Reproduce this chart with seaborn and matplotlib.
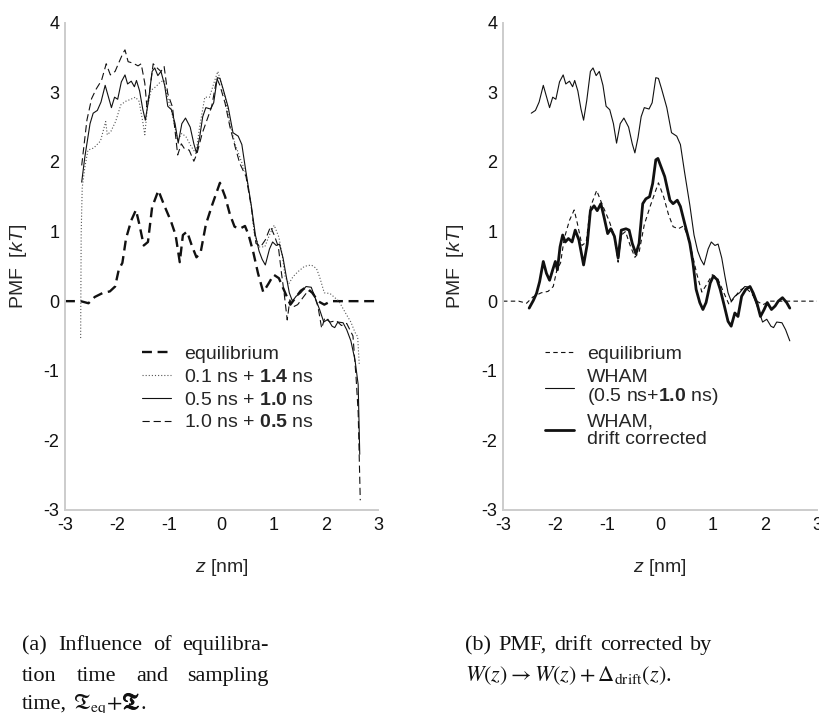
import numpy as np
import pandas as pd
import matplotlib
matplotlib.use("Agg")
import matplotlib.pyplot as plt
import matplotlib.patheffects as pe
import seaborn as sns
from matplotlib.ticker import MultipleLocator

# ---------------- data ----------------
z_eq = [-3.0, -2.7, -2.55, -2.43, -2.27, -2.14, -2.04, -1.97, -1.90, -1.83, -1.73, -1.64,
        -1.58, -1.49, -1.41, -1.33, -1.21, -1.10, -0.97, -0.88, -0.80, -0.74, -0.66, -0.57,
        -0.48, -0.40, -0.30, -0.18, -0.03, 0.07, 0.16, 0.25, 0.35, 0.45, 0.52, 0.61, 0.70,
        0.80, 0.90, 1.00, 1.10, 1.22, 1.32, 1.42, 1.52, 1.62, 1.74, 1.85, 1.97, 2.10, 2.40, 3.0]
pmf_eq = [0.0, 0.0, -0.03, 0.06, 0.12, 0.14, 0.21, 0.45, 0.55, 0.90, 1.16, 1.31,
          1.12, 0.80, 0.85, 1.35, 1.59, 1.38, 1.15, 0.95, 0.56, 0.95, 1.00, 0.80,
          0.63, 0.70, 1.10, 1.38, 1.70, 1.50, 1.25, 1.07, 1.04, 1.08, 0.95, 0.70, 0.40,
          0.13, 0.25, 0.38, 0.33, 0.12, -0.05, 0.05, 0.15, 0.20, 0.12, 0.0, -0.05, 0.0, 0.0, 0.0]

z_01 = [-2.70, -2.69, -2.67, -2.62, -2.56, -2.45, -2.32, -2.22, -2.19, -2.12, -2.03, -1.93,
        -1.84, -1.74, -1.65, -1.58, -1.51, -1.47, -1.42, -1.35, -1.26, -1.17, -1.10, -1.04,
        -0.96, -0.84, -0.76, -0.68, -0.58, -0.49, -0.42, -0.32, -0.23, -0.13, -0.07, -0.02,
        0.07, 0.16, 0.26, 0.35, 0.47, 0.57, 0.63, 0.72, 0.83, 0.93, 1.01, 1.10, 1.16, 1.22,
        1.29, 1.37, 1.46, 1.59, 1.72, 1.82, 1.88, 1.97, 2.08, 2.25, 2.40, 2.48, 2.56, 2.61, 2.64]
pmf_01 = [-0.53, 0.97, 1.63, 1.92, 2.17, 2.20, 2.30, 2.58, 2.39, 2.44, 2.58, 2.82,
          2.87, 2.90, 2.93, 2.87, 2.58, 2.39, 2.79, 3.03, 3.08, 3.15, 3.17, 2.94,
          2.74, 2.31, 2.41, 2.36, 2.22, 2.12, 2.50, 2.93, 2.93, 3.17, 3.30, 3.17,
          2.93, 2.55, 2.26, 2.07, 1.83, 1.36, 0.97, 0.78, 0.78, 0.97, 1.09, 0.92, 0.68, 0.35,
          0.25, 0.35, 0.42, 0.50, 0.52, 0.47, 0.35, 0.12, 0.11, 0.00, -0.20, -0.30, -0.45, -0.51, -0.90]

z_05 = [-2.68, -2.62, -2.52, -2.46, -2.38, -2.31, -2.23, -2.17, -2.11, -2.05, -1.99, -1.92,
        -1.85, -1.80, -1.73, -1.67, -1.63, -1.57, -1.51, -1.46, -1.40, -1.33, -1.28, -1.22,
        -1.16, -1.09, -1.03, -0.96, -0.89, -0.83, -0.76, -0.69, -0.60, -0.53, -0.48, -0.42,
        -0.36, -0.30, -0.21, -0.15, -0.08, -0.03, 0.03, 0.13, 0.22, 0.32, 0.39, 0.47, 0.57,
        0.65, 0.72, 0.78, 0.84, 0.92, 0.98, 1.05, 1.11, 1.18, 1.24, 1.30, 1.36, 1.43, 1.52,
        1.62, 1.72, 1.81, 1.88, 1.96, 2.04, 2.12, 2.17, 2.23, 2.33, 2.40, 2.48, 2.56, 2.62, 2.65]
pmf_05 = [1.71, 2.07, 2.55, 2.70, 2.74, 2.86, 3.10, 2.94, 2.78, 2.93, 2.90, 3.15,
          3.25, 3.12, 3.16, 3.08, 3.17, 3.02, 2.76, 2.60, 2.88, 3.30, 3.35, 3.24,
          3.30, 3.10, 2.80, 2.75, 2.55, 2.27, 2.55, 2.63, 2.50, 2.26, 2.13, 2.35,
          2.65, 2.78, 2.76, 2.85, 3.21, 3.20, 3.05, 2.78, 2.42, 2.37, 2.25, 1.85, 1.38,
          0.95, 0.72, 0.60, 0.52, 0.75, 0.85, 0.80, 0.82, 0.62, 0.36, 0.12, 0.00, 0.07, 0.12,
          0.21, 0.20, 0.02, -0.12, -0.30, -0.26, -0.36, -0.38, -0.30, -0.31, -0.41, -0.57, -0.85, -1.20, -2.20]

z_10 = [-2.68, -2.58, -2.49, -2.40, -2.30, -2.21, -2.13, -2.04, -1.96, -1.89, -1.85, -1.79,
        -1.70, -1.60, -1.54, -1.47, -1.43, -1.38, -1.31, -1.22, -1.16, -1.10, -1.03, -0.94,
        -0.84, -0.77, -0.71, -0.62, -0.53, -0.47, -0.37, -0.28, -0.19, -0.09, -0.03, 0.07,
        0.16, 0.26, 0.35, 0.47, 0.57, 0.66, 0.75, 0.84, 0.94, 1.01, 1.09, 1.15, 1.20, 1.26,
        1.31, 1.38, 1.46, 1.56, 1.66, 1.76, 1.85, 1.92, 1.98, 2.08, 2.20, 2.30, 2.40, 2.52,
        2.58, 2.62, 2.66]
pmf_10 = [1.95, 2.60, 2.91, 3.05, 3.17, 3.41, 3.25, 3.30, 3.44, 3.56, 3.61, 3.44,
          3.42, 3.38, 3.41, 3.13, 2.79, 3.00, 3.41, 3.34, 3.30, 3.37, 2.98, 2.79,
          2.10, 2.26, 2.19, 2.17, 2.01, 2.12, 2.41, 2.60, 2.79, 3.20, 3.10, 2.84,
          2.51, 2.22, 1.98, 1.79, 1.36, 0.83, 0.78, 0.88, 1.07, 0.95, 0.78, 0.40, 0.12, -0.27,
          0.02, -0.08, -0.05, 0.05, 0.15, 0.12, -0.08, -0.39, -0.24, -0.30, -0.28, -0.35, -0.32, -0.50,
          -1.10, -1.60, -2.86]

z_drift = [-2.50, -2.42, -2.36, -2.30, -2.23, -2.17, -2.11, -2.05, -2.00, -1.96, -1.91, -1.86,
           -1.81, -1.75, -1.68, -1.62, -1.55, -1.46, -1.39, -1.33, -1.26, -1.20, -1.13, -1.07,
           -1.00, -0.94, -0.87, -0.80, -0.74, -0.65, -0.59, -0.53, -0.46, -0.40, -0.33, -0.27,
           -0.20, -0.14, -0.08, -0.04, 0.00, 0.09, 0.19, 0.25, 0.33, 0.39, 0.47, 0.57, 0.63,
           0.69, 0.76, 0.82, 0.88, 0.96, 1.02, 1.09, 1.15, 1.23, 1.30, 1.36, 1.43, 1.49, 1.56,
           1.64, 1.72, 1.78, 1.85, 1.92, 1.99, 2.05, 2.13, 2.20, 2.26, 2.34, 2.42, 2.48]
pmf_drift = [-0.10, 0.01, 0.11, 0.28, 0.57, 0.40, 0.30, 0.45, 0.57, 0.45, 0.78, 0.95,
             0.85, 0.90, 0.85, 1.02, 0.88, 0.52, 0.82, 1.30, 1.37, 1.30, 1.40, 1.21,
             0.97, 1.04, 0.93, 0.62, 1.02, 1.04, 1.02, 0.83, 0.68, 0.83, 1.40, 1.47,
             1.50, 1.69, 2.03, 2.05, 1.97, 1.79, 1.45, 1.40, 1.45, 1.36, 1.12, 0.83, 0.55,
             0.17, -0.02, -0.12, -0.02, 0.26, 0.36, 0.31, 0.17, -0.07, -0.29, -0.36, -0.17, -0.22, 0.07,
             0.17, 0.21, 0.12, -0.02, -0.22, -0.12, -0.02, -0.12, -0.07, 0.00, 0.05, -0.02, -0.10]

x_ticks = [-3, -2, -1, 0, 1, 2, 3]
y_ticks = [-3, -2, -1, 0, 1, 2, 3, 4]
labels_a = ["equilibrium", "0.1 ns + $\\mathbf{1.4}$ ns", "0.5 ns + $\\mathbf{1.0}$ ns",
            "1.0 ns + $\\mathbf{0.5}$ ns"]
labels_b = ["equilibrium", "WHAM\n(0.5 ns+$\\mathbf{1.0}$ ns)", "WHAM,\ndrift corrected"]

# ---------------- style ----------------
sns.set_style("white")
plt.rcParams["font.family"] = ["Liberation Sans", "DejaVu Sans"]
plt.rcParams["axes.unicode_minus"] = False
plt.rcParams["mathtext.fontset"] = "custom"
plt.rcParams["mathtext.rm"] = "Liberation Sans"
plt.rcParams["mathtext.it"] = "Liberation Sans:italic"
plt.rcParams["mathtext.bf"] = "Liberation Sans:bold"

W, H = 820, 713
fig = plt.figure(figsize=(W / 100, H / 100), dpi=100)
fig.patch.set_facecolor("white")
axL = fig.add_axes([65 / W, 1 - 510 / H, 313 / W, (510 - 22.7) / H])
axR = fig.add_axes([503 / W, 1 - 510 / H, 314 / W, (510 - 22.7) / H])

INK = "#111111"


def line(ax, z, v, **kw):
    df = pd.DataFrame({"z": z, "pmf": v})
    sns.lineplot(data=df, x="z", y="pmf", ax=ax, sort=False, estimator=None,
                 color=kw.pop("color", INK), **kw)
    return ax.lines[-1]


# panel (a)
hL = [
    line(axL, z_eq, pmf_eq, lw=1.7, linestyle=(0, (4.2, 2.4))),
    line(axL, z_01, pmf_01, lw=0.8, linestyle=(0, (1, 1.8)), color="#555555"),
    line(axL, z_05, pmf_05, lw=0.8),
    line(axL, z_10, pmf_10, lw=0.8, linestyle=(0, (6.5, 3.5))),
]

# panel (b)
z05 = np.array(z_05)
mask = np.abs(z05) <= 2.5
hR = [
    line(axR, z_eq, pmf_eq, lw=0.8, linestyle=(0, (4, 3))),
    line(axR, z05[mask], np.array(pmf_05)[mask], lw=0.8),
    line(axR, z_drift, pmf_drift, lw=2.0),
]

for ax in (axL, axR):
    ax.set_xlim(-3, 3)
    ax.set_ylim(-3, 4)
    ax.set_xticks(x_ticks)
    ax.set_xticklabels([str(t) for t in x_ticks])
    ax.set_yticks(y_ticks)
    ax.set_yticklabels([str(t) for t in y_ticks])
    ax.xaxis.set_minor_locator(MultipleLocator(0.5))
    ax.yaxis.set_minor_locator(MultipleLocator(0.5))
    ax.tick_params(which="major", direction="in", length=9.5, width=1.0, color="#555555",
                   labelsize=13, pad=4, top=False, right=False, labelcolor="#111111")
    ax.tick_params(which="minor", direction="in", length=5, width=1.0, color="#555555",
                   top=False, right=False)
    ax.tick_params(axis="x", pad=5)
    for s in ("top", "right"):
        ax.spines[s].set_visible(False)
    for s in ("left", "bottom"):
        ax.spines[s].set_color("#cccccc")
        ax.spines[s].set_linewidth(1.4)
    ax.set_xlabel("$z$ [nm]", fontsize=14)
    ax.set_ylabel("PMF  [$kT$]", fontsize=14)
    ax.xaxis.set_label_coords(0.5, -0.117)
    ax.xaxis.label.set_va("center")
    ax.yaxis.set_label_coords(-0.15, 0.5)
    ax.yaxis.label.set_va("center")
    ax.grid(False)

legL = axL.legend(hL, labels_a, loc="upper left", bbox_to_anchor=(0.246, 0.338),
                  frameon=False, fontsize=14, handlelength=1.5, handletextpad=0.65,
                  labelspacing=0.27, borderpad=0, borderaxespad=0)
legR = axR.legend(hR, labels_b, loc="upper left", bbox_to_anchor=(0.134, 0.338),
                  frameon=False, fontsize=14, handlelength=1.5, handletextpad=0.65,
                  labelspacing=0.3, borderpad=0, borderaxespad=0)
for t in legR.get_texts():
    t.set_linespacing(1.05)

# ---------------- captions ----------------
renderer = fig.canvas.get_renderer()
CAP = dict(fontsize=16, family="Liberation Serif", math_fontfamily="stix", va="baseline",
           color="#111111")
SPACE = 0.25 * 16 * 100 / 72


def caption_line(words, x0, x1, y, justify, gaps=None, bold=None):
    texts = [fig.text(0, 1 - y / H, w, **CAP) for w in words]
    if bold:
        for i in bold:
            texts[i].set_path_effects([pe.withStroke(linewidth=0.7, foreground="#111111")])
    widths = [t.get_window_extent(renderer).width for t in texts]
    if gaps is None:
        if justify and len(words) > 1:
            g = (x1 - x0 - sum(widths)) / (len(words) - 1)
        else:
            g = SPACE
        gaps = [g] * len(words)
    x = x0
    for t, w, g in zip(texts, widths, gaps):
        t.set_x(x / W)
        x += w + g


caption_line(["(a)", "Influence", "of", "equilibra-"], 22, 269, 650, True)
caption_line(["tion", "time", "and", "sampling"], 22, 269, 681, True)
caption_line(["time,", "$\\mathfrak{T}_{\\rm eq}{+}$", "$\\mathfrak{T}$", "."], 22, 269, 709,
             False, gaps=[SPACE, 0.5, 0.5, 0], bold=[2])
caption_line(["(b)", "PMF,", "drift", "corrected", "by"], 465, 712, 650, True)
caption_line(["$W(z) \\rightarrow W(z) + \\Delta_{\\rm drift}(z)$."], 465, 712, 681, False)

fig.savefig("out.png", dpi=100, facecolor="white")
